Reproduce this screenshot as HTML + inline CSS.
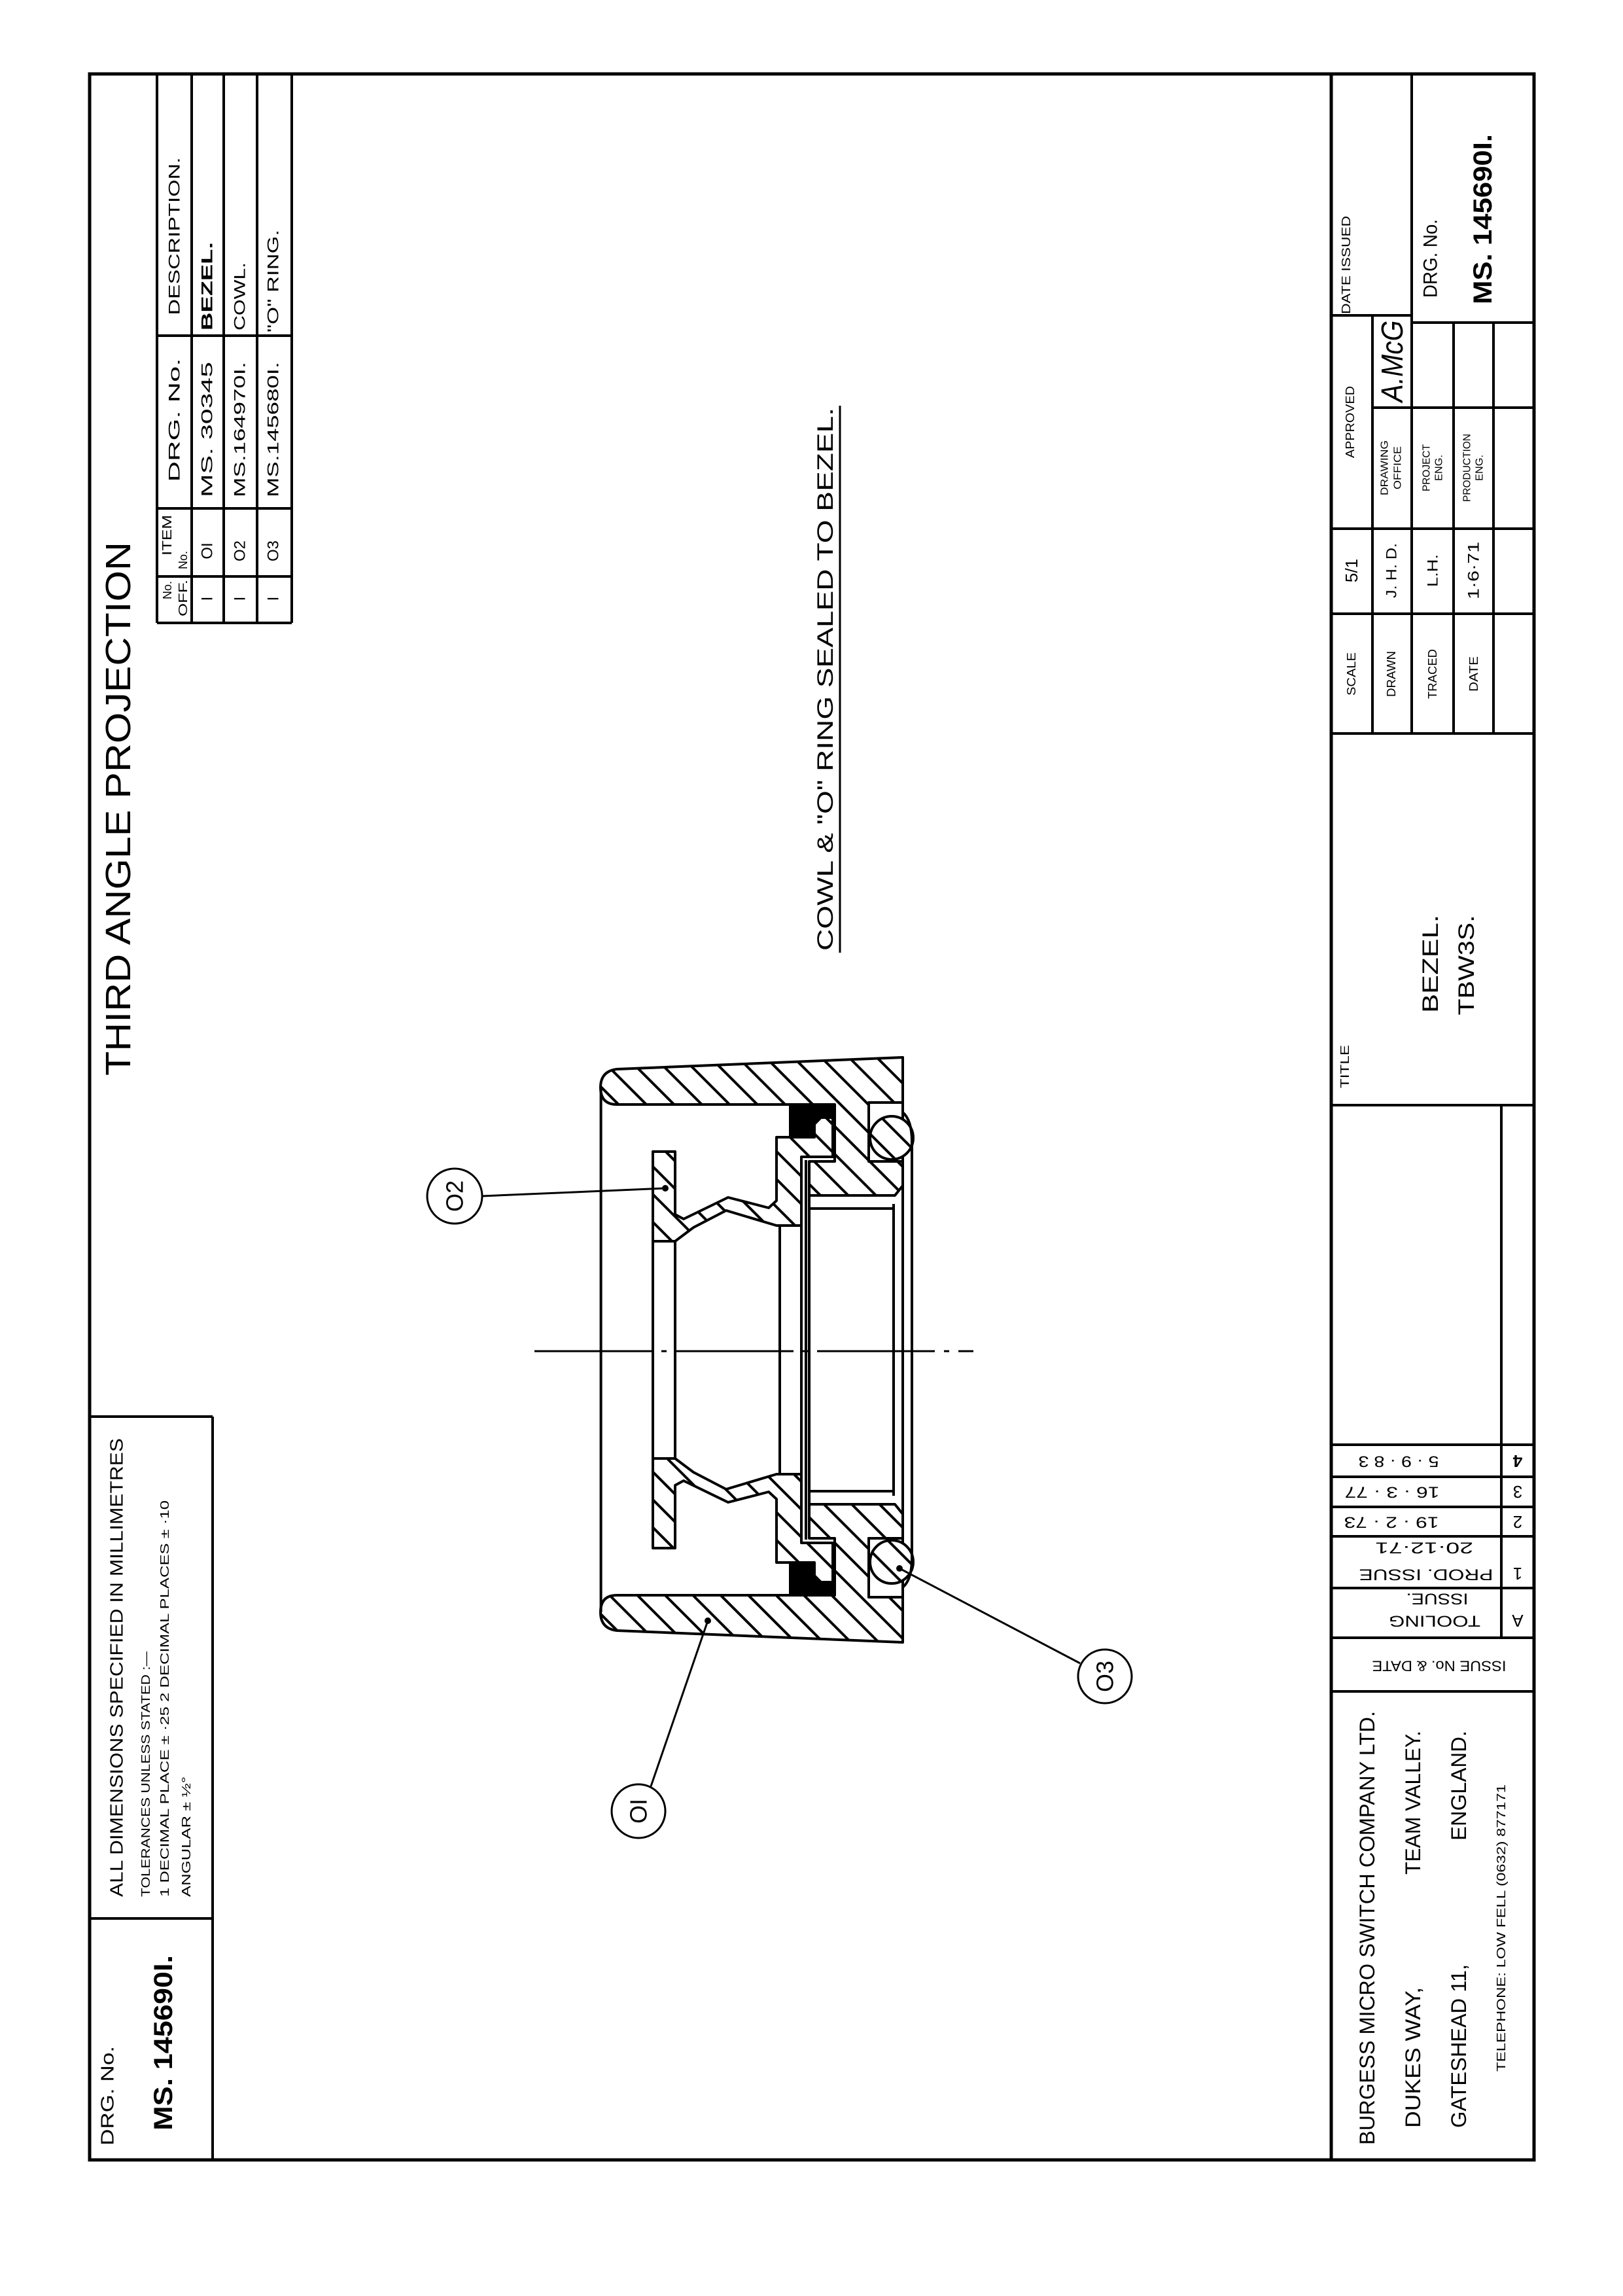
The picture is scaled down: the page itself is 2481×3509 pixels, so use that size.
<!DOCTYPE html>
<html><head><meta charset="utf-8"><style>
html,body{margin:0;padding:0;background:#fff;}
svg{display:block;}
text{font-family:"Liberation Sans",sans-serif;fill:#000;}
</style></head><body>
<svg width="2481" height="3509" viewBox="0 0 2481 3509" xmlns="http://www.w3.org/2000/svg">
<defs>
<pattern id="h" patternUnits="userSpaceOnUse" width="30" height="30" patternTransform="rotate(-45)">
<rect width="30" height="30" fill="#fff"/>
<line x1="15" y1="0" x2="15" y2="30" stroke="#000" stroke-width="4"/>
</pattern>
</defs>
<rect width="2481" height="3509" fill="#fff"/>

<!-- frame -->
<g fill="none" stroke="#000" stroke-width="5">
<rect x="137" y="113" width="2208" height="3188"/>
<line x1="2035" y1="113" x2="2035" y2="3301"/>
</g>

<!-- parts list table -->
<g fill="none" stroke="#000" stroke-width="4">
<line x1="240" y1="113" x2="240" y2="952"/>
<line x1="293" y1="113" x2="293" y2="952"/>
<line x1="342" y1="113" x2="342" y2="952"/>
<line x1="393" y1="113" x2="393" y2="952"/>
<line x1="446" y1="113" x2="446" y2="952"/>
<line x1="240" y1="952" x2="446" y2="952"/>
<line x1="240" y1="513" x2="446" y2="513"/>
<line x1="240" y1="777" x2="446" y2="777"/>
<line x1="240" y1="881" x2="446" y2="881"/>
</g>
<g font-size="24" dominant-baseline="central">
<text transform="translate(267 361) rotate(-90)" text-anchor="middle" textLength="241" lengthAdjust="spacingAndGlyphs">DESCRIPTION.</text>
<text transform="translate(267 642) rotate(-90)" text-anchor="middle" textLength="189" lengthAdjust="spacingAndGlyphs">DRG. No.</text>
<text transform="translate(256 818) rotate(-90)" text-anchor="middle" font-size="20" textLength="62" lengthAdjust="spacingAndGlyphs">ITEM</text>
<text transform="translate(280 856) rotate(-90)" text-anchor="middle" font-size="18">No.</text>
<text transform="translate(256 902) rotate(-90)" text-anchor="middle" font-size="18">No.</text>
<text transform="translate(280 914) rotate(-90)" text-anchor="middle" font-size="18" textLength="56" lengthAdjust="spacingAndGlyphs">OFF.</text>

<text transform="translate(317 505) rotate(-90)" font-weight="bold" textLength="135" lengthAdjust="spacingAndGlyphs">BEZEL.</text>
<text transform="translate(367 505) rotate(-90)" textLength="104" lengthAdjust="spacingAndGlyphs">COWL.</text>
<text transform="translate(418 508) rotate(-90)" textLength="157" lengthAdjust="spacingAndGlyphs">"O" RING.</text>

<text transform="translate(317 760) rotate(-90)" textLength="207" lengthAdjust="spacingAndGlyphs">MS. 30345</text>
<text transform="translate(367 760) rotate(-90)" textLength="207" lengthAdjust="spacingAndGlyphs">MS.164970I.</text>
<text transform="translate(418 760) rotate(-90)" textLength="207" lengthAdjust="spacingAndGlyphs">MS.145680I.</text>

<text transform="translate(317 842) rotate(-90)" text-anchor="middle">OI</text>
<text transform="translate(367 842) rotate(-90)" text-anchor="middle">O2</text>
<text transform="translate(418 842) rotate(-90)" text-anchor="middle">O3</text>
<text transform="translate(317 915) rotate(-90)" text-anchor="middle">I</text>
<text transform="translate(367 915) rotate(-90)" text-anchor="middle">I</text>
<text transform="translate(418 915) rotate(-90)" text-anchor="middle">I</text>
</g>

<text transform="translate(181 1236) rotate(-90)" text-anchor="middle" dominant-baseline="central" font-size="54" textLength="816" lengthAdjust="spacingAndGlyphs">THIRD ANGLE PROJECTION</text>

<!-- note -->
<text transform="translate(1262 1038) rotate(-90)" text-anchor="middle" dominant-baseline="central" font-size="34" textLength="830" lengthAdjust="spacingAndGlyphs">COWL &amp; "O" RING SEALED TO BEZEL.</text>
<line x1="1284" y1="620" x2="1284" y2="1456" stroke="#000" stroke-width="3"/>

<!-- left bottom box -->
<g fill="none" stroke="#000" stroke-width="4">
<line x1="137" y1="2165" x2="325" y2="2165"/>
<line x1="325" y1="2165" x2="325" y2="3301"/>
<line x1="137" y1="2932" x2="325" y2="2932"/>
</g>
<g dominant-baseline="central">
<text transform="translate(178 2899) rotate(-90)" font-size="28" textLength="701" lengthAdjust="spacingAndGlyphs">ALL DIMENSIONS SPECIFIED IN MILLIMETRES</text>
<text transform="translate(223 2899) rotate(-90)" font-size="18" textLength="375" lengthAdjust="spacingAndGlyphs">TOLERANCES UNLESS STATED :—</text>
<text transform="translate(252 2899) rotate(-90)" font-size="18" textLength="606" lengthAdjust="spacingAndGlyphs">1 DECIMAL PLACE ± ·25  2 DECIMAL PLACES ± ·10</text>
<text transform="translate(285 2899) rotate(-90)" font-size="18" textLength="184" lengthAdjust="spacingAndGlyphs">ANGULAR ± ½°</text>
<text transform="translate(164 3279) rotate(-90)" font-size="28" textLength="152" lengthAdjust="spacingAndGlyphs">DRG. No.</text>
<text transform="translate(250 3256) rotate(-90)" font-size="40" font-weight="bold" textLength="268" lengthAdjust="spacingAndGlyphs">MS. 145690I.</text>
</g>

<!-- title block grid -->
<g fill="none" stroke="#000" stroke-width="4">
<line x1="2035" y1="482" x2="2158" y2="482"/>
<line x1="2158" y1="493" x2="2345" y2="493"/>
<line x1="2098" y1="623" x2="2345" y2="623"/>
<line x1="2035" y1="808" x2="2345" y2="808"/>
<line x1="2035" y1="938" x2="2345" y2="938"/>
<line x1="2035" y1="1121" x2="2345" y2="1121"/>
<line x1="2098" y1="482" x2="2098" y2="1121"/>
<line x1="2158" y1="113" x2="2158" y2="1121"/>
<line x1="2222" y1="493" x2="2222" y2="1121"/>
<line x1="2283" y1="493" x2="2283" y2="1121"/>
<line x1="2035" y1="1689" x2="2345" y2="1689"/>
<line x1="2295" y1="1689" x2="2295" y2="2503"/>
<line x1="2035" y1="2208" x2="2345" y2="2208"/>
<line x1="2035" y1="2257" x2="2345" y2="2257"/>
<line x1="2035" y1="2303" x2="2345" y2="2303"/>
<line x1="2035" y1="2348" x2="2345" y2="2348"/>
<line x1="2035" y1="2427" x2="2345" y2="2427"/>
<line x1="2035" y1="2503" x2="2345" y2="2503"/>
<line x1="2035" y1="2585" x2="2345" y2="2585"/>
</g>
<g dominant-baseline="central" text-anchor="middle">
<text transform="translate(2058 405) rotate(-90)" font-size="18" textLength="150" lengthAdjust="spacingAndGlyphs">DATE ISSUED</text>
<text transform="translate(2187 395) rotate(-90)" font-size="30" textLength="120" lengthAdjust="spacingAndGlyphs">DRG. No.</text>
<text transform="translate(2267 335) rotate(-90)" font-size="40" font-weight="bold" textLength="260" lengthAdjust="spacingAndGlyphs">MS. 145690I.</text>
<text transform="translate(2064 645) rotate(-90)" font-size="18" textLength="110" lengthAdjust="spacingAndGlyphs">APPROVED</text>
<text transform="translate(2117 715) rotate(-90)" font-size="16" textLength="84" lengthAdjust="spacingAndGlyphs">DRAWING</text>
<text transform="translate(2137 715) rotate(-90)" font-size="16" textLength="66" lengthAdjust="spacingAndGlyphs">OFFICE</text>
<text transform="translate(2128 552) rotate(-90)" font-size="46" font-style="italic" textLength="125" lengthAdjust="spacingAndGlyphs">A.McG</text>
<text transform="translate(2181 715) rotate(-90)" font-size="16" textLength="72" lengthAdjust="spacingAndGlyphs">PROJECT</text>
<text transform="translate(2200 715) rotate(-90)" font-size="16" textLength="40" lengthAdjust="spacingAndGlyphs">ENG.</text>
<text transform="translate(2243 715) rotate(-90)" font-size="16" textLength="104" lengthAdjust="spacingAndGlyphs">PRODUCTION</text>
<text transform="translate(2262 715) rotate(-90)" font-size="16" textLength="40" lengthAdjust="spacingAndGlyphs">ENG.</text>
<text transform="translate(2066 872) rotate(-90)" font-size="26">5/1</text>
<text transform="translate(2127 872) rotate(-90)" font-size="22" textLength="84" lengthAdjust="spacingAndGlyphs">J. H. D.</text>
<text transform="translate(2190 872) rotate(-90)" font-size="22" textLength="50" lengthAdjust="spacingAndGlyphs">L.H.</text>
<text transform="translate(2253 872) rotate(-90)" font-size="24" textLength="88" lengthAdjust="spacingAndGlyphs">1·6·71</text>
<text transform="translate(2066 1030) rotate(-90)" font-size="18" textLength="66" lengthAdjust="spacingAndGlyphs">SCALE</text>
<text transform="translate(2127 1030) rotate(-90)" font-size="18" textLength="70" lengthAdjust="spacingAndGlyphs">DRAWN</text>
<text transform="translate(2190 1030) rotate(-90)" font-size="18" textLength="76" lengthAdjust="spacingAndGlyphs">TRACED</text>
<text transform="translate(2253 1030) rotate(-90)" font-size="18" textLength="54" lengthAdjust="spacingAndGlyphs">DATE</text>
<text transform="translate(2056 1630) rotate(-90)" font-size="18" textLength="66" lengthAdjust="spacingAndGlyphs">TITLE</text>
<text transform="translate(2187 1473) rotate(-90)" font-size="34" textLength="150" lengthAdjust="spacingAndGlyphs">BEZEL.</text>
<text transform="translate(2242 1475) rotate(-90)" font-size="34" textLength="153" lengthAdjust="spacingAndGlyphs">TBW3S.</text>

<!-- issue table (upside down) -->
<text transform="translate(2138 2233) rotate(180)" font-size="24" textLength="123" lengthAdjust="spacingAndGlyphs">5 · 9 · 8 3</text>
<text transform="translate(2320 2233) rotate(180)" font-size="26" font-weight="bold">4</text>
<text transform="translate(2128 2280) rotate(180)" font-size="24" textLength="145" lengthAdjust="spacingAndGlyphs">16 · 3 · 77</text>
<text transform="translate(2320 2280) rotate(180)" font-size="26">3</text>
<text transform="translate(2127 2326) rotate(180)" font-size="24" textLength="145" lengthAdjust="spacingAndGlyphs">19 · 2 · 73</text>
<text transform="translate(2320 2326) rotate(180)" font-size="26">2</text>
<text transform="translate(2177 2365) rotate(180)" font-size="24" textLength="150" lengthAdjust="spacingAndGlyphs">20·12·71</text>
<text transform="translate(2180 2406) rotate(180)" font-size="24" textLength="205" lengthAdjust="spacingAndGlyphs">PROD.   ISSUE</text>
<text transform="translate(2320 2405) rotate(180)" font-size="26">1</text>
<text transform="translate(2197 2443) rotate(180)" font-size="24" textLength="95" lengthAdjust="spacingAndGlyphs">ISSUE.</text>
<text transform="translate(2193 2477) rotate(180)" font-size="24" textLength="140" lengthAdjust="spacingAndGlyphs">TOOLING</text>
<text transform="translate(2320 2477) rotate(180)" font-size="26">A</text>
<text transform="translate(2200 2546) rotate(180)" font-size="22" textLength="205" lengthAdjust="spacingAndGlyphs">ISSUE No. &amp; DATE</text>
</g>

<!-- company block -->
<g dominant-baseline="central">
<text transform="translate(2090 3278) rotate(-90)" font-size="32" textLength="663" lengthAdjust="spacingAndGlyphs">BURGESS MICRO SWITCH COMPANY LTD.</text>
<text transform="translate(2160 3252) rotate(-90)" font-size="32" textLength="215" lengthAdjust="spacingAndGlyphs">DUKES WAY,</text>
<text transform="translate(2160 2865) rotate(-90)" font-size="32" textLength="220" lengthAdjust="spacingAndGlyphs">TEAM VALLEY.</text>
<text transform="translate(2230 3252) rotate(-90)" font-size="32" textLength="250" lengthAdjust="spacingAndGlyphs">GATESHEAD 11,</text>
<text transform="translate(2230 2813) rotate(-90)" font-size="32" textLength="168" lengthAdjust="spacingAndGlyphs">ENGLAND.</text>
<text transform="translate(2295 3166) rotate(-90)" font-size="18" textLength="439" lengthAdjust="spacingAndGlyphs">TELEPHONE: LOW FELL (0632) 877171</text>
</g>

<!-- DRAWING -->
<g stroke="#000" stroke-width="4" stroke-linejoin="round">
<!-- bezel -->
<path fill="url(#h)" d="M943,1688 L1276,1688 L1276,1775 L1237,1775 L1237,1827 L1368,1827 L1380,1812 L1380,1775 L1328,1775 L1328,1685 L1380,1685 L1380,1616 L943,1634 Q918,1637 918,1662 Q918,1688 943,1688 Z"/>
<path fill="url(#h)" d="M943,2438 L1276,2438 L1276,2351 L1237,2351 L1237,2299 L1368,2299 L1380,2314 L1380,2351 L1328,2351 L1328,2441 L1380,2441 L1380,2510 L943,2492 Q918,2489 918,2464 Q918,2438 943,2438 Z"/>
<!-- groove interior white -->
<rect x="1328" y="1685" width="52" height="90" fill="#fff"/>
<rect x="1328" y="2351" width="52" height="90" fill="#fff"/>
<!-- o-rings -->
<circle cx="1363" cy="1739" r="33" fill="url(#h)"/>
<circle cx="1363" cy="2387" r="33" fill="url(#h)"/>
<!-- black seals -->
<path fill="#000" d="M1208,1690 L1276,1690 L1276,1708 L1255,1708 L1245,1718 L1245,1738 L1208,1738 Z"/>
<path fill="#000" d="M1208,2436 L1276,2436 L1276,2418 L1255,2418 L1245,2408 L1245,2388 L1208,2388 Z"/>
<!-- cowl -->
<path fill="url(#h)" d="M998,1760 L1032,1760 L1032,1856 L1045,1863 L1113,1830 L1175,1846 L1187,1835 L1187,1738 L1245,1738 L1245,1718 L1255,1708 L1273,1708 L1273,1768 L1225,1768 L1225,1873 L1187,1873 L1110,1850 L1060,1876 L1032,1897 L998,1897 Z"/>
<path fill="url(#h)" d="M998,2366 L1032,2366 L1032,2270 L1045,2263 L1113,2296 L1175,2280 L1187,2291 L1187,2388 L1245,2388 L1245,2408 L1255,2418 L1273,2418 L1273,2358 L1225,2358 L1225,2253 L1187,2253 L1110,2276 L1060,2250 L1032,2229 L998,2229 Z"/>
<!-- visible lines -->
<g fill="none">
<line x1="918.6" y1="1662" x2="918.6" y2="2464"/>
<line x1="998" y1="1897" x2="998" y2="2229"/>
<line x1="1032" y1="1897" x2="1032" y2="2229"/>
<line x1="1192" y1="1873" x2="1192" y2="2253"/>
<line x1="1225" y1="1873" x2="1225" y2="2253"/>
<line x1="1232" y1="1773" x2="1232" y2="2353"/>
<line x1="1237" y1="1827" x2="1237" y2="2299"/>
<line x1="1237" y1="1847" x2="1366" y2="1847"/>
<line x1="1237" y1="2279" x2="1366" y2="2279"/>
<line x1="1366" y1="1840" x2="1366" y2="2286"/>
<line x1="1380" y1="1812" x2="1380" y2="2314"/>
<path d="M1380,1700 Q1394,1712 1394,1745 L1394,2381 Q1394,2414 1380,2426"/>
</g>
</g>
<!-- centre line -->
<line x1="817" y1="2065" x2="1488" y2="2065" stroke="#000" stroke-width="3" stroke-dasharray="180 14 8 14"/>

<!-- balloons & leaders -->
<g stroke="#000" stroke-width="3" fill="none">
<circle cx="695" cy="1828" r="42" fill="#fff"/>
<line x1="737" y1="1828" x2="1017" y2="1816"/>
<circle cx="976" cy="2768" r="41" fill="#fff"/>
<line x1="995" y1="2730" x2="1082" y2="2477"/>
<circle cx="1689" cy="2562" r="41" fill="#fff"/>
<line x1="1651" y1="2542" x2="1375" y2="2397"/>
</g>
<g fill="#000">
<circle cx="1017" cy="1816" r="5"/>
<circle cx="1082" cy="2477" r="5"/>
<circle cx="1375" cy="2397" r="5"/>
</g>
<g font-size="36" dominant-baseline="central" text-anchor="middle">
<text transform="translate(695 1828) rotate(-90)">O2</text>
<text transform="translate(976 2768) rotate(-90)">OI</text>
<text transform="translate(1689 2562) rotate(-90)">O3</text>
</g>
</svg>
</body></html>
